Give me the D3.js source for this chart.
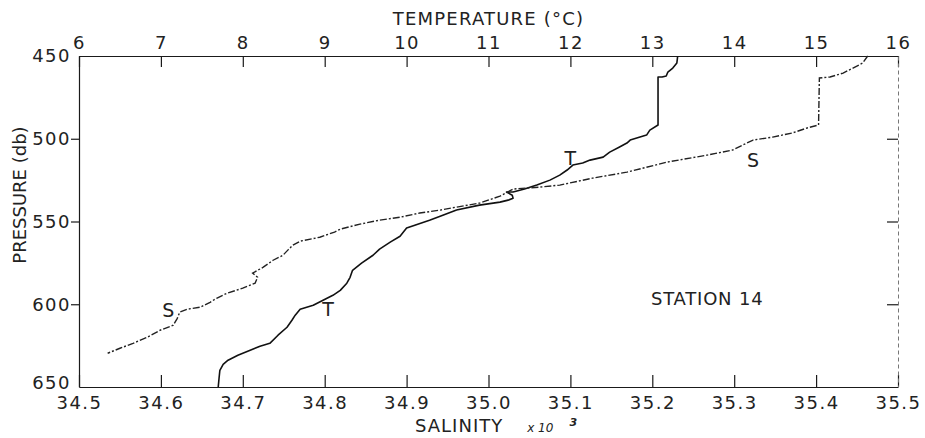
<!DOCTYPE html>
<html lang="en">
<head>
    <meta charset="UTF-8">
    <title>Station 14</title>
    <script src="https://d3js.org/d3.v7.min.js"></script>
    <style>
        body {
            margin: 0;
            background-color: #fff;
        }
        svg text {
            font-family: "DejaVu Sans", sans-serif;
            fill: #222;
        }
        .axis text {
            font-size: 18px;
            letter-spacing: 1.5px;
        }
        .axis line, .axis path {
            stroke: #1a1a1a;
            stroke-width: 1.2;
        }
    </style>
</head>
<body>
<div id="chart"></div>

<script>
    // temperature profile (T)
    const tempPressure = [450, 454.2, 457.3, 459.7, 462.1, 462.7, 462.7, 491.7, 494.8, 497.8, 499.0, 500.8, 502.6, 505.0,
        508.1, 511.1, 512.9, 514.7, 515.9, 518.9, 522.0, 525.0, 528.0, 530.4, 532.2, 532.2, 534.1, 535.9, 537.1, 538.3,
        540.1, 543.1, 546.8, 549.2, 552.2, 554.0, 558.9, 562.5, 566.7, 570.4, 575.2, 579.5, 583.7, 587.3, 591.6, 594.6,
        597.6, 600.6, 603.0, 606.6, 609.7, 613.9, 618.7, 623.6, 625.4, 627.8, 630.8, 633.8, 636.3, 639.9, 644.7, 650];
    const tempValues = [13.31, 13.30, 13.25, 13.19, 13.17, 13.12, 13.07, 13.07, 12.97, 12.93, 12.85, 12.73, 12.69, 12.60,
        12.48, 12.40, 12.24, 12.15, 12.03, 11.96, 11.87, 11.75, 11.59, 11.44, 11.30, 11.22, 11.29, 11.30, 11.24, 11.14,
        10.89, 10.61, 10.41, 10.28, 10.10, 10.00, 9.92, 9.80, 9.67, 9.59, 9.45, 9.34, 9.31, 9.27, 9.19, 9.10,
        8.98, 8.86, 8.70, 8.64, 8.60, 8.54, 8.43, 8.33, 8.21, 8.09, 7.94, 7.82, 7.76, 7.72, 7.71, 7.70];

    // salinity profile (S)
    const salPressure = [450, 454.2, 457.3, 460.3, 462.7, 463.3, 491.7, 493.5, 496.5, 499.0, 500.8, 506.8, 509.9, 514.1,
        520.2, 523.8, 528.0, 529.2, 530.4, 534.7, 538.9, 541.3, 543.1, 544.9, 547.4, 549.2, 551.6, 554.6, 556.4, 559.5,
        561.9, 564.3, 567.3, 570.4, 573.4, 577.6, 581.2, 583.7, 587.3, 590.3, 593.3, 596.4, 598.8, 601.8, 603.0, 604.8,
        608.5, 612.7, 615.7, 620.0, 623.6, 626.6, 629.6];
    const salValues = [35.463, 35.457, 35.445, 35.433, 35.417, 35.404, 35.403, 35.389, 35.371, 35.347, 35.323, 35.298, 35.267, 35.218,
        35.169, 35.127, 35.087, 35.063, 35.030, 35.014, 34.989, 34.961, 34.941, 34.916, 34.892, 34.867, 34.843, 34.819, 34.812, 34.794,
        34.770, 34.761, 34.755, 34.749, 34.737, 34.725, 34.712, 34.718, 34.715, 34.700, 34.681, 34.668, 34.660, 34.648, 34.632, 34.623,
        34.620, 34.615, 34.599, 34.583, 34.566, 34.550, 34.535];

    const tempTicks = [6, 7, 8, 9, 10, 11, 12, 13, 14, 15, 16];
    const salTicks = [34.5, 34.6, 34.7, 34.8, 34.9, 35.0, 35.1, 35.2, 35.3, 35.4, 35.5];
    const pressureTicks = [450, 500, 550, 600, 650];

    const width = 925;
    const height = 438;
    const plotLeft = 79, plotRight = 898, plotTop = 56, plotBottom = 387;

    const svg = d3.select("#chart")
        .append("svg")
        .attr("width", width)
        .attr("height", height);

    const xT = d3.scaleLinear().domain([6, 16]).range([plotLeft, plotRight]);
    const xS = d3.scaleLinear().domain([34.5, 35.5]).range([plotLeft, plotRight]);
    const y = d3.scaleLinear().domain([450, 650]).range([plotTop, plotBottom]);

    // top axis : temperature
    svg.append("g")
        .attr("class", "axis")
        .attr("transform", `translate(0,${plotTop})`)
        .call(d3.axisTop(xT).tickValues(tempTicks).tickFormat(d3.format("d"))
            .tickSizeInner(-11).tickSizeOuter(0).tickPadding(7));

    // bottom axis : salinity
    svg.append("g")
        .attr("class", "axis")
        .attr("transform", `translate(0,${plotBottom})`)
        .call(d3.axisBottom(xS).tickValues(salTicks).tickFormat(d3.format(".1f"))
            .tickSizeInner(-12).tickSizeOuter(0).tickPadding(9));

    // left axis : pressure
    const leftAxis = svg.append("g")
        .attr("class", "axis")
        .attr("transform", `translate(${plotLeft},0)`)
        .call(d3.axisLeft(y).tickValues(pressureTicks).tickFormat(d3.format("d"))
            .tickSizeInner(8).tickSizeOuter(0).tickPadding(0));
    leftAxis.selectAll(".tick line").filter(d => d === 450 || d === 650).remove();
    leftAxis.selectAll(".tick text").filter(d => d === 650).attr("dy", "0.1em");
    leftAxis.selectAll(".tick text").attr("font-size", "19px");

    // right axis (faint, dotted)
    const rightAxis = svg.append("g")
        .attr("class", "axis")
        .attr("transform", `translate(${plotRight},0)`)
        .call(d3.axisRight(y).tickValues([500, 550, 600]).tickFormat("")
            .tickSizeInner(-11).tickSizeOuter(0));
    rightAxis.select(".domain")
        .style("stroke", "#777")
        .style("stroke-width", 1)
        .style("stroke-dasharray", "4,3");

    // curves
    const tempData = tempPressure.map((p, i) => ({p: p, v: tempValues[i]}));
    const salData = salPressure.map((p, i) => ({p: p, v: salValues[i]}));

    svg.append("path")
        .datum(tempData)
        .attr("fill", "none")
        .attr("stroke", "#111")
        .attr("stroke-width", 1.6)
        .attr("stroke-linejoin", "round")
        .attr("d", d3.line().x(d => xT(d.v)).y(d => y(d.p)));

    svg.append("path")
        .datum(salData)
        .attr("fill", "none")
        .attr("stroke", "#222")
        .attr("stroke-width", 1.4)
        .attr("stroke-dasharray", "7,2,2,2")
        .attr("d", d3.line().x(d => xS(d.v)).y(d => y(d.p)));

    // curve labels
    const curveLabels = [
        {text: "T", x: xT(12.0), y: y(516)},
        {text: "T", x: xT(9.04), y: y(607.2)},
        {text: "S", x: xS(35.323), y: y(517.1)},
        {text: "S", x: xS(34.609), y: y(607.8)}
    ];
    svg.selectAll(".clabel")
        .data(curveLabels)
        .enter()
        .append("text")
        .attr("class", "clabel")
        .attr("x", d => d.x)
        .attr("y", d => d.y)
        .attr("text-anchor", "middle")
        .attr("font-size", "19px")
        .text(d => d.text);

    // titles
    svg.append("text")
        .attr("x", xT(11))
        .attr("y", 25)
        .attr("text-anchor", "middle")
        .attr("font-size", "18px")
        .attr("letter-spacing", "1.2px")
        .text("TEMPERATURE (°C)");

    svg.append("text")
        .attr("transform", `translate(26,${y(534)}) rotate(-90)`)
        .attr("text-anchor", "middle")
        .attr("font-size", "18px")
        .text("PRESSURE (db)");

    const salTitle = svg.append("text")
        .attr("x", 415)
        .attr("y", 432)
        .attr("font-size", "18px")
        .attr("letter-spacing", "1px");
    salTitle.append("tspan").text("SALINITY");
    salTitle.append("tspan").attr("dx", 24).attr("font-size", "12px").attr("font-style", "italic")
        .attr("letter-spacing", "0px").text("x 10");
    salTitle.append("tspan").attr("dx", 16).attr("dy", -6).attr("font-size", "11px").attr("font-style", "italic")
        .attr("font-weight", "bold").text("3");

    svg.append("text")
        .attr("x", xS(35.267))
        .attr("y", 305)
        .attr("text-anchor", "middle")
        .attr("font-size", "18px")
        .attr("letter-spacing", "0.8px")
        .text("STATION 14");
</script>
</body>
</html>
